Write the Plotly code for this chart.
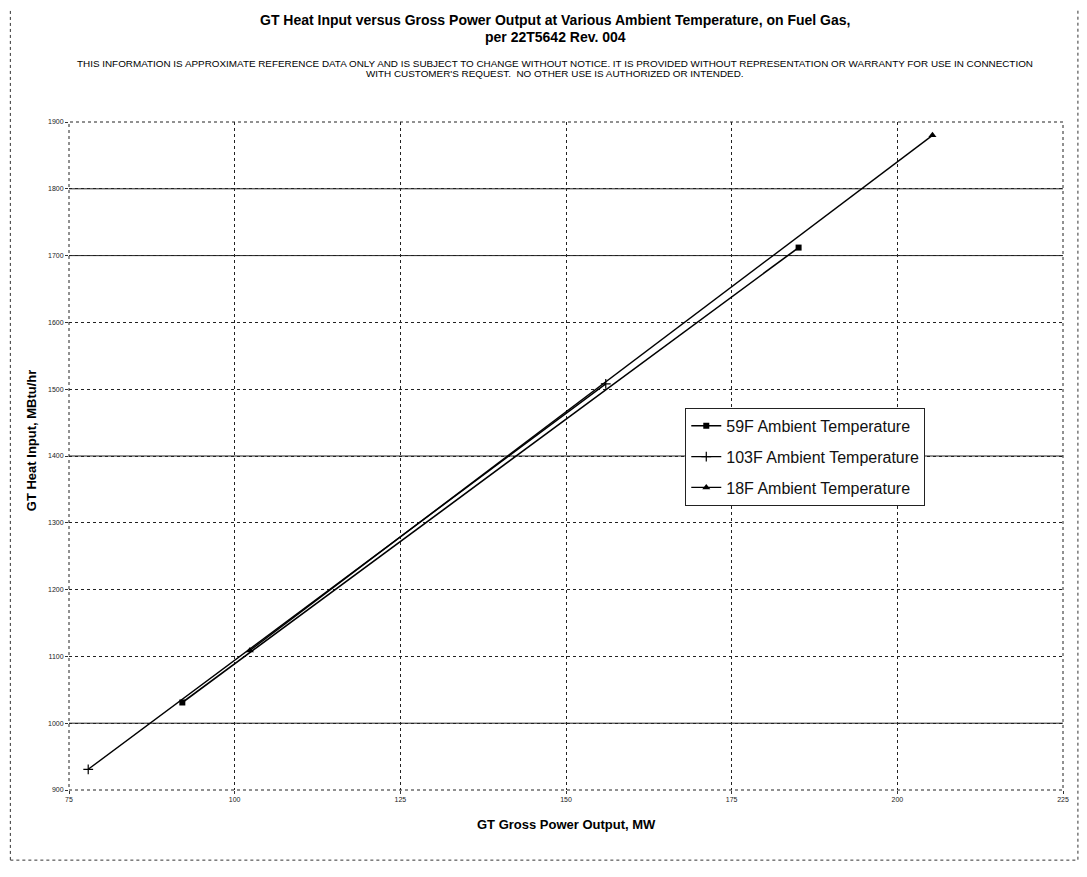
import plotly.graph_objects as go

# ---- data ----
series_names = ["59F Ambient Temperature", "103F Ambient Temperature", "18F Ambient Temperature"]
power_59F = [92.1, 185.1]
heat_59F = [1031, 1712]
power_103F = [77.9, 156.0]
heat_103F = [931, 1508]
power_18F = [102.3, 205.3]
heat_18F = [1109, 1880]

x_ticks = [75, 100, 125, 150, 175, 200, 225]
y_ticks = [900, 1000, 1100, 1200, 1300, 1400, 1500, 1600, 1700, 1800, 1900]
solid_grid_values = [1000, 1400, 1700, 1800]  # gridlines that print solid in the scan

FONT = "Arial, Liberation Sans, sans-serif"

fig = go.Figure()
fig.add_trace(go.Scatter(x=power_59F, y=heat_59F, name=series_names[0], mode="lines+markers",
                         line=dict(color="black", width=1.6), legendgroup="a",
                         marker=dict(symbol="square", size=6, color="black")))
fig.add_trace(go.Scatter(x=power_103F, y=heat_103F, name=series_names[1], mode="lines+markers",
                         line=dict(color="black", width=1.4), legendgroup="b",
                         marker=dict(symbol="cross-thin-open", size=7, line=dict(color="black", width=1.2))))
fig.add_trace(go.Scatter(x=power_18F, y=heat_18F, name=series_names[2], mode="lines+markers",
                         line=dict(color="black", width=1.4), legendgroup="c",
                         marker=dict(symbol="triangle-up", size=7, color="black")))

shapes = [
    dict(type="rect", xref="paper", yref="paper", x0=0, x1=1, y0=0, y1=1,
         line=dict(color="#222", width=1, dash="dot")),
    dict(type="rect", xref="paper", yref="paper", x0=-0.059, x1=1.015, y0=-0.105, y1=1.178,
         line=dict(color="#333", width=1, dash="dot")),
]
for v in solid_grid_values:
    shapes.append(dict(type="line", xref="paper", yref="y", x0=0, x1=1, y0=v, y1=v,
                       line=dict(color="#222", width=1), layer="below"))

fig.update_layout(
    width=1079, height=869,
    margin=dict(l=61, r=24, t=114, b=87, autoexpand=False),
    paper_bgcolor="white", plot_bgcolor="white",
    font=dict(family=FONT, color="black"),
    showlegend=True,
    legend=dict(x=0.62, y=0.572, xanchor="left", yanchor="top",
                bgcolor="white", bordercolor="#222", borderwidth=1,
                font=dict(size=16, family=FONT, color="#111"),
                tracegroupgap=7),
    xaxis=dict(range=[75, 225], tickvals=x_ticks, ticktext=[str(v) for v in x_ticks],
               showgrid=True, gridcolor="#222", griddash="dot", gridwidth=1,
               zeroline=False, showline=False, ticks="outside", ticklen=3, tickcolor="#333",
               tickfont=dict(size=7, color="#222")),
    yaxis=dict(range=[900, 1900], tickvals=y_ticks, ticktext=[str(v) for v in y_ticks],
               showgrid=True, gridcolor="#222", griddash="dot", gridwidth=1,
               zeroline=False, showline=False, ticks="outside", ticklen=3, tickcolor="#333",
               tickfont=dict(size=7, color="#222")),
    shapes=shapes,
    annotations=[
        dict(text="<b>GT Heat Input versus Gross Power Output at Various Ambient Temperature, on Fuel Gas,</b>",
             xref="paper", yref="paper", x=0.489, y=1.153, showarrow=False,
             xanchor="center", yanchor="middle", font=dict(size=14, color="black")),
        dict(text="<b>per 22T5642 Rev. 004</b>",
             xref="paper", yref="paper", x=0.489, y=1.127, showarrow=False,
             xanchor="center", yanchor="middle", font=dict(size=14, color="black")),
        dict(text="THIS INFORMATION IS APPROXIMATE REFERENCE DATA ONLY AND IS SUBJECT TO CHANGE WITHOUT NOTICE. "
                  "IT IS PROVIDED WITHOUT REPRESENTATION OR WARRANTY FOR USE IN CONNECTION",
             xref="paper", yref="paper", x=0.489, y=1.088, showarrow=False,
             xanchor="center", yanchor="middle", font=dict(size=9.9, color="black")),
        dict(text="WITH CUSTOMER'S REQUEST.  NO OTHER USE IS AUTHORIZED OR INTENDED.",
             xref="paper", yref="paper", x=0.489, y=1.073, showarrow=False,
             xanchor="center", yanchor="middle", font=dict(size=9.9, color="black")),
        dict(text="<b>GT Heat Input, MBtu/hr</b>",
             xref="paper", yref="paper", x=-0.037, y=0.524, showarrow=False, textangle=-90,
             xanchor="center", yanchor="middle", font=dict(size=13, color="black")),
        dict(text="<b>GT Gross Power Output, MW</b>",
             xref="paper", yref="paper", x=0.5, y=-0.052, showarrow=False,
             xanchor="center", yanchor="middle", font=dict(size=13, color="black")),
    ],
)

fig.write_html("out.html")
